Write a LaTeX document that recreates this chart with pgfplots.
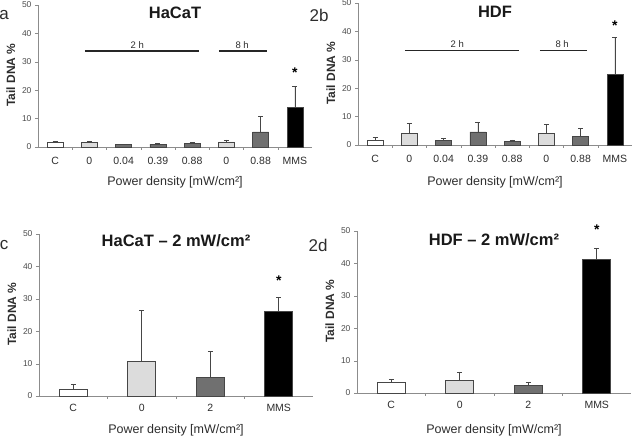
\documentclass[border=0pt]{standalone}
\usepackage{pgfplots}
\pgfplotsset{compat=1.18}
\usepackage{fontspec}
\setmainfont{Liberation Sans}
\definecolor{axgray}{RGB}{140,140,140}
\definecolor{lightbar}{RGB}{220,220,220}
\definecolor{darkbar}{RGB}{112,112,112}
\definecolor{edge}{RGB}{70,70,70}
\definecolor{txtgray}{RGB}{45,45,45}
\tikzset{
 ttl/.style={font=\bfseries\fontsize{16.5}{17}\selectfont, text=black!90, anchor=center},
 hlab/.style={font=\fontsize{9.5}{10}\selectfont, text=txtgray},
 star/.style={font=\bfseries\fontsize{14}{14}\selectfont},
}
\pgfplotsset{
 panel/.style={
  scale only axis, clip=false,
  ymin=0, ymax=50, ytick={0,10,...,50},
  axis x line*=bottom, axis y line*=left,
  axis line style={axgray,-},
  tick align=outside, major tick length=3pt, minor tick length=3pt,
  ytick style={axgray},
  major x tick style={draw=none},
  minor x tick style={axgray},
  ybar, bar shift=0pt,
  /pgf/number format/assume math mode=true,
  yticklabel style={font=\fontsize{8.5}{9}\selectfont, text=txtgray!85},
  xticklabel style={font=\fontsize{10.5}{11}\selectfont, text=txtgray},
  ylabel={Tail DNA \%},
  ylabel style={font=\bfseries\fontsize{12}{12}\selectfont, text=txtgray, xshift=1pt},
  xlabel={Power density [mW/cm²]},
  xlabel style={font=\fontsize{12.5}{13}\selectfont, text=txtgray, at={(0.5,0)}, anchor=center},
  every axis plot/.append style={draw=edge, line width=0.7pt,
    error bars/y dir=plus, error bars/y explicit,
    error bars/error bar style={edge, line width=0.7pt},
    error bars/error mark options={rotate=90, mark size=2.5pt, edge, line width=0.7pt}},
 },
 top/.style={panel, width=274pt, height=142pt, xmin=-0.5, xmax=7.5,
  xtick={0,...,7}, xticklabels={C,0,0.04,0.39,0.88,0,0.88,MMS},
  minor xtick={0.5,1.5,...,6.5}, bar width=16pt,
  xticklabel style={yshift=-4pt}},
 bot/.style={panel, width=274pt, height=162pt, xmin=-0.5, xmax=3.5,
  xtick={0,...,3}, xticklabels={C,0,2,MMS},
  minor xtick={0.5,1.5,2.5}, bar width=28pt,
  xticklabel style={yshift=-2pt}},
}
\begin{document}
\begin{tikzpicture}[x=1pt,y=1pt]
\useasboundingbox (0,0) rectangle (640,442);
\node[font=\fontsize{17}{17}\selectfont, text=txtgray] at (4,427) {a};
\node[font=\fontsize{17}{17}\selectfont, text=txtgray] at (319,427) {2b};
\node[font=\fontsize{17}{17}\selectfont, text=txtgray] at (4,197) {c};
\node[font=\fontsize{17}{17}\selectfont, text=txtgray] at (318,197) {2d};

% panel a
\begin{axis}[top, at={(38pt,295pt)}, anchor=south west, xlabel style={yshift=-35pt}]
\addplot[fill=white] table[x=x,y=y,y error=e] {
x y e
0 1.5 0.6
};
\addplot[fill=lightbar] table[x=x,y=y,y error=e] {
x y e
1 1.5 0.6
5 1.8 0.7
};
\addplot[fill=darkbar] table[x=x,y=y,y error=e] {
x y e
2 0.9 0.1
3 1.0 0.4
4 1.2 0.3
6 5.3 5.5
};
\addplot[fill=black] table[x=x,y=y,y error=e] {
x y e
7 14.0 7.3
};
\node[ttl] at (rel axis cs:0.5,1) [yshift=-8pt] {HaCaT};
\draw[black!85, line width=1.5pt] (axis cs:0.87,33.8) -- (axis cs:4.2,33.8);
\draw[black!85, line width=1.5pt] (axis cs:4.78,33.8) -- (axis cs:6.19,33.8);
\node[hlab] at (axis cs:2.4,36) {2 h};
\node[hlab] at (axis cs:5.46,36) {8 h};
\node[star] at (axis cs:7,26.0) {*};
\end{axis}

% panel b
\begin{axis}[top, at={(358pt,297pt)}, anchor=south west, xlabel style={yshift=-37pt}]
\addplot[fill=white] table[x=x,y=y,y error=e] {
x y e
0 1.6 1.1
};
\addplot[fill=lightbar] table[x=x,y=y,y error=e] {
x y e
1 4.1 3.6
5 4.2 3.1
};
\addplot[fill=darkbar] table[x=x,y=y,y error=e] {
x y e
2 1.7 0.5
3 4.6 3.5
4 1.4 0.4
6 2.9 2.8
};
\addplot[fill=black] table[x=x,y=y,y error=e] {
x y e
7 25.0 13.0
};
\node[ttl] at (rel axis cs:0.5,1) [yshift=-8.5pt] {HDF};
\draw[black!85, line width=1.5pt] (axis cs:0.87,33.3) -- (axis cs:4.2,33.3);
\draw[black!85, line width=1.5pt] (axis cs:4.81,33.3) -- (axis cs:6.19,33.3);
\node[hlab] at (axis cs:2.4,35.6) {2 h};
\node[hlab] at (axis cs:5.46,35.6) {8 h};
\node[star] at (axis cs:7,42.0) {*};
\end{axis}

% panel c
\begin{axis}[bot, at={(39pt,46pt)}, anchor=south west, xlabel style={yshift=-34pt}]
\addplot[fill=white] table[x=x,y=y,y error=e] {
x y e
0 2.1 1.5
};
\addplot[fill=lightbar] table[x=x,y=y,y error=e] {
x y e
1 10.7 15.7
};
\addplot[fill=darkbar] table[x=x,y=y,y error=e] {
x y e
2 5.9 7.8
};
\addplot[fill=black] table[x=x,y=y,y error=e] {
x y e
3 26.2 4.1
};
\node[ttl] at (rel axis cs:0.5,1) [yshift=-7pt] {HaCaT – 2 mW/cm²};
\node[star] at (axis cs:3,35.5) {*};
\end{axis}

% panel d
\begin{axis}[bot, at={(357pt,49pt)}, anchor=south west, xlabel style={yshift=-37pt}]
\addplot[fill=white] table[x=x,y=y,y error=e] {
x y e
0 3.2 1.0
};
\addplot[fill=lightbar] table[x=x,y=y,y error=e] {
x y e
1 3.9 2.6
};
\addplot[fill=darkbar] table[x=x,y=y,y error=e] {
x y e
2 2.4 1.0
};
\addplot[fill=black] table[x=x,y=y,y error=e] {
x y e
3 41.2 3.3
};
\node[ttl] at (rel axis cs:0.5,1) [yshift=-8.5pt] {HDF – 2 mW/cm²};
\node[star] at (axis cs:3,50.3) {*};
\end{axis}
\end{tikzpicture}
\end{document}
